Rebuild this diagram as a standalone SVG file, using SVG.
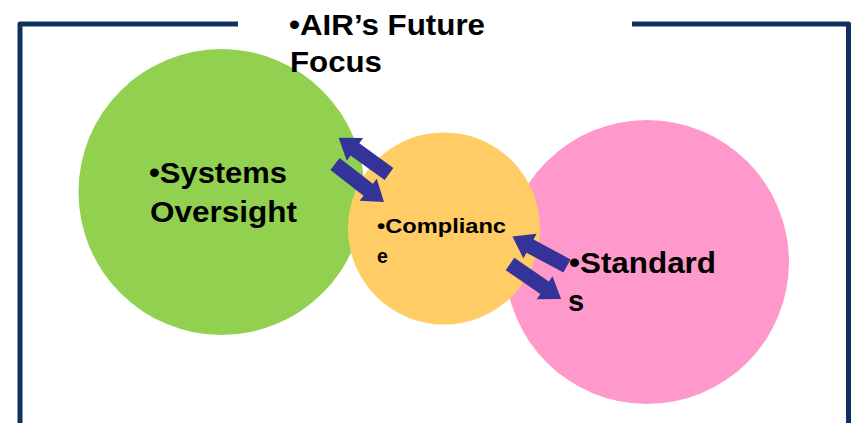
<svg xmlns="http://www.w3.org/2000/svg" width="854" height="423" viewBox="0 0 854 423">
<style>
.frame{fill:none;stroke:#10305F;stroke-width:5;stroke-linejoin:round}
.t{font-family:"Liberation Sans",Arial,sans-serif;font-weight:bold;fill:#000}
.arr{fill:#333399}
</style>
<defs>
<polygon id="blk" points="0,-7.5 42,-7.5 42,-14 62,0 42,14 42,7.5 0,7.5"/>
</defs>
<rect width="854" height="423" fill="#fff"/>
<g id="frame">
<polyline class="frame" points="238,24 20,24 20,425"/>
<polyline class="frame" points="632,24 848.5,24 848.5,425"/>
</g>
<g id="systems">
<circle cx="221.5" cy="192" r="143" fill="#92D050"/>
<text class="t" font-size="29" x="149" y="183" textLength="138" lengthAdjust="spacingAndGlyphs">•Systems</text>
<text class="t" font-size="29" x="150" y="222" textLength="147" lengthAdjust="spacingAndGlyphs">Oversight</text>
</g>
<g id="standards">
<circle cx="647" cy="262" r="142" fill="#FF99CC"/>
<text class="t" font-size="29" x="569" y="273" textLength="147" lengthAdjust="spacingAndGlyphs">•Standard</text>
<text class="t" font-size="29" x="568" y="311">s</text>
</g>
<g id="compliance">
<circle cx="444" cy="228.5" r="96" fill="#FFCC66"/>
<text class="t" font-size="19.5" x="377" y="233" textLength="129" lengthAdjust="spacingAndGlyphs">•Complianc</text>
<text class="t" font-size="19.5" x="377" y="263">e</text>
</g>
<g id="title">
<text class="t" font-size="30" x="289" y="35" textLength="196" lengthAdjust="spacingAndGlyphs">•AIR’s Future</text>
<text class="t" font-size="30" x="290" y="72" textLength="92" lengthAdjust="spacingAndGlyphs">Focus</text>
</g>
<g id="connectors">
<use href="#blk" class="arr" transform="translate(389,174) rotate(215.75)"/>
<use href="#blk" class="arr" transform="translate(335,164) rotate(37.8)"/>
<use href="#blk" class="arr" transform="translate(567,266) rotate(208.3)"/>
<use href="#blk" class="arr" transform="translate(510,264) rotate(34.5)"/>
</g>
</svg>
